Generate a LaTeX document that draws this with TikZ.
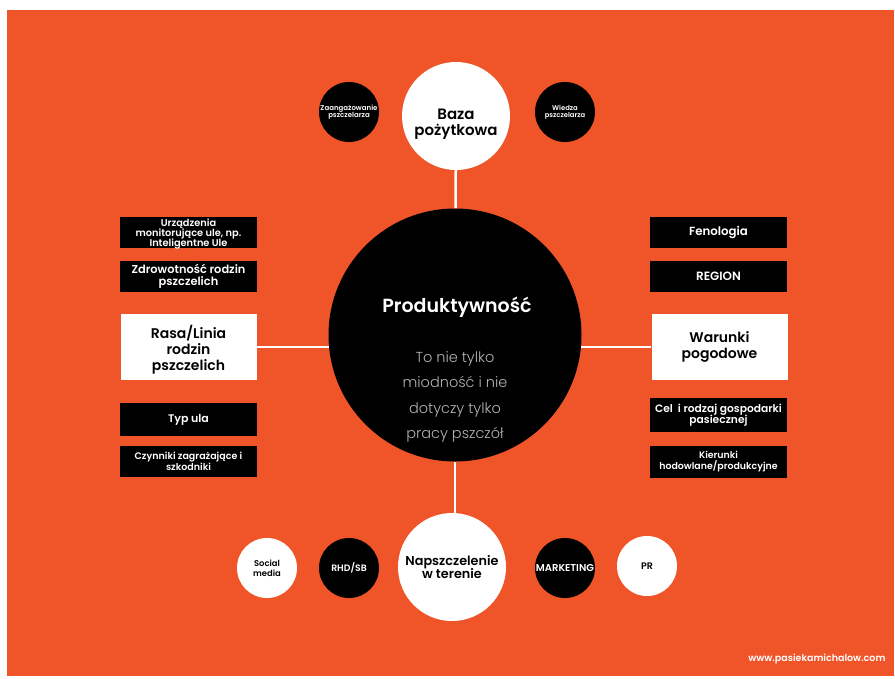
\documentclass[tikz,border=0pt]{standalone}
\usepackage{fontspec}
\setmainfont{Poppins}[BoldFont={* SemiBold}]
\newfontfamily\lightf{Poppins Light}
\usetikzlibrary{backgrounds}
\definecolor{bgorange}{HTML}{F0552A}
\definecolor{bodygrey}{HTML}{B4B4B4}
\begin{document}
\begin{tikzpicture}[x=1pt,y=-1pt,
  bigcirc/.style={circle,inner sep=0pt,minimum size=#1,align=center},
  blackcirc/.style={circle,fill=black,text=white,inner sep=0pt,minimum size=60pt,align=center,font=\bfseries\fontsize{9}{10}\selectfont},
  whitecirc/.style={circle,fill=white,text=black,inner sep=0pt,minimum size=60pt,align=center,font=\bfseries\fontsize{8.4}{10}\selectfont},
  blackbox/.style={fill=black,text=white,inner sep=0pt,minimum width=137pt,minimum height=#1,align=center,font=\bfseries\fontsize{9.8}{10.1}\selectfont},
  whitebox/.style={fill=white,text=black,inner sep=0pt,minimum width=136pt,minimum height=66pt,align=center,font=\bfseries\fontsize{14}{16.5}\selectfont},
  link/.style={draw=white,line width=2.5pt}
]
\useasboundingbox (0,0) rectangle (895,678);

% central circle
\node[bigcirc=253pt,fill=black] (prod) at (455,335) {};
\node[text=white,font=\bfseries\fontsize{19}{22}\selectfont] (prodtitle) at (457,307) {Produktywność};
\node[text=bodygrey,align=center,font=\lightf\fontsize{14.5}{25.3}\selectfont] (prodbody) at (455,397) {To nie tylko\\miodność i nie\\dotyczy tylko\\pracy pszczół};

% top
\node[bigcirc=108pt,fill=white] (baza) at (456,116) {};
\node[align=center,font=\bfseries\fontsize{15}{16}\selectfont] (bazatext) at (456,124) {Baza\\pożytkowa};
\node[blackcirc,font=\bfseries\fontsize{7}{7.5}\selectfont] (zaang) at (349,112) {Zaangażowanie\\pszczelarza};
\node[blackcirc,font=\bfseries\fontsize{6.8}{7.5}\selectfont] (wiedza) at (565,112) {Wiedza\\pszczelarza};

% bottom
\node[bigcirc=108pt,fill=white,font=\bfseries\fontsize{12.8}{13.5}\selectfont] (nap) at (452,567) {Napszczelenie\\w terenie};
\node[whitecirc] (social) at (267,568) {\\[-2pt]Social\\media};
\node[blackcirc,font=\bfseries\fontsize{9.3}{10}\selectfont] (rhd) at (349,568) {RHD/SB};
\node[blackcirc,font=\bfseries\fontsize{10}{11}\selectfont] (mark) at (565,568) {MARKETING};
\node[whitecirc,font=\bfseries\fontsize{9.5}{10}\selectfont] (pr) at (647,566) {PR};

% left/right main boxes
\node[whitebox] (rasa) at (188.5,347) {};
\node[align=center,font=\bfseries\fontsize{14}{16.2}\selectfont] (rasatext) at (188.5,350) {Rasa/Linia\\rodzin\\pszczelich};
\node[whitebox] (war) at (719.5,347) {Warunki\\pogodowe};

% left black boxes
\node[blackbox=31pt] (urz) at (188.5,232.5) {};
\node[text=white,align=center,inner sep=0pt,font=\bfseries\fontsize{9.8}{10.4}\selectfont] (urztext) at (188.5,234) {Urządzenia\\monitorujące ule, np.\\Inteligentne Ule};
\node[blackbox=31pt,font=\bfseries\fontsize{11.4}{12}\selectfont] (zdrow) at (188.5,276.5) {Zdrowotność rodzin\\pszczelich};
\node[blackbox=33pt,font=\bfseries\fontsize{11}{12}\selectfont] (typ) at (188.5,419.5) {Typ ula};
\node[blackbox=31pt,font=\bfseries\fontsize{9.5}{10.5}\selectfont] (czyn) at (188.5,461.5) {Czynniki zagrażające i\\szkodniki};

% right black boxes
\node[blackbox=31pt,font=\bfseries\fontsize{11.8}{13}\selectfont] (feno) at (718.5,232.5) {Fenologia};
\node[blackbox=31pt,font=\bfseries\fontsize{12}{13}\selectfont] (region) at (718.5,276.5) {REGION};
\node[blackbox=34pt,font=\bfseries\fontsize{10.7}{11.5}\selectfont] (cel) at (718.5,415) {Cel\ \ i rodzaj gospodarki\\pasiecznej};
\node[blackbox=32pt,font=\bfseries\fontsize{9.4}{11}\selectfont] (kier) at (718.5,462) {Kierunki\\hodowlane/produkcyjne};

% footer
\node[text=white,anchor=east,font=\bfseries\fontsize{9.5}{11}\selectfont] (www) at (889,659) {www.pasiekamichalow.com};

% background and connectors
\begin{pgfonlayer}{background}
\fill[white] (0,0) rectangle (895,678);
\fill[bgorange] (7,10) rectangle (894,676);
\draw[link] (prod) -- (baza);
\draw[link] (prod) -- (prod |- nap);
\draw[link] (rasa.east) -- (war.west);
\end{pgfonlayer}
\end{tikzpicture}
\end{document}
